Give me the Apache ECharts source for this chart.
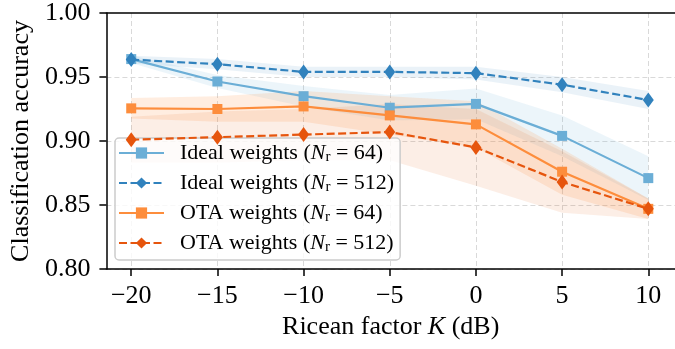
<!DOCTYPE html>
<html>
<head>
<meta charset="utf-8">
<script src="https://cdn.jsdelivr.net/npm/echarts@6/dist/echarts.min.js"></script>
<style>html,body{margin:0;padding:0;background:#fff;}#c{width:675px;height:349px;}</style>
</head>
<body>
<div id="c"></div>
<script>
const kValues = [-20, -15, -10, -5, 0, 5, 10];
const xTicks = [-20, -15, -10, -5, 0, 5, 10];
const yTicks = [0.80, 0.85, 0.90, 0.95, 1.00];

const ideal64 = [0.964, 0.9465, 0.935, 0.926, 0.929, 0.904, 0.871];
const ideal512 = [0.9636, 0.960, 0.954, 0.954, 0.953, 0.944, 0.932];
const ota64 = [0.9255, 0.925, 0.927, 0.920, 0.913, 0.876, 0.847];
const ota512 = [0.901, 0.903, 0.905, 0.907, 0.895, 0.868, 0.847];

const ideal64Err = [0.003, 0.005, 0.008, 0.010, 0.012, 0.016, 0.017];
const ideal512Err = [0.003, 0.004, 0.004, 0.004, 0.005, 0.006, 0.007];
const ota64Err = [0.008, 0.010, 0.012, 0.015, 0.018, 0.018, 0.008];
const ota512Err = [0.018, 0.020, 0.020, 0.022, 0.030, 0.024, 0.008];

const names = [
  'Ideal weights (N_r = 64)',
  'Ideal weights (N_r = 512)',
  'OTA weights (N_r = 64)',
  'OTA weights (N_r = 512)'
];
const richNames = {
  'Ideal weights (N_r = 64)': 'Ideal weights ({it|N}{sub|r} = 64)',
  'Ideal weights (N_r = 512)': 'Ideal weights ({it|N}{sub|r} = 512)',
  'OTA weights (N_r = 64)': 'OTA weights ({it|N}{sub|r} = 64)',
  'OTA weights (N_r = 512)': 'OTA weights ({it|N}{sub|r} = 512)'
};
const colors = ['#6baed6', '#3182bd', '#fd8d3c', '#e6550d'];
const bandColors = ['rgba(107,174,214,0.13)', 'rgba(49,130,189,0.10)', 'rgba(253,141,60,0.16)', 'rgba(230,85,13,0.10)'];
const means = [ideal64, ideal512, ota64, ota512];
const errs = [ideal64Err, ideal512Err, ota64Err, ota512Err];
const FONT = 'Liberation Serif';

function bandSeries(i) {
  const rows = kValues.map((k, j) => [k, means[i][j] - errs[i][j], means[i][j] + errs[i][j]]);
  return {
    type: 'custom',
    name: 'band' + i,
    z: 1,
    silent: true,
    data: rows,
    encode: { x: 0, y: 1 },
    renderItem: function (params, api) {
      if (params.dataIndex !== 0) return null;
      const pts = [];
      rows.forEach(r => pts.push(api.coord([r[0], r[2]])));
      for (let j = rows.length - 1; j >= 0; j--) pts.push(api.coord([rows[j][0], rows[j][1]]));
      return { type: 'polygon', shape: { points: pts }, style: { fill: bandColors[i], stroke: null } };
    }
  };
}

function lineSeries(i) {
  const dashed = (i % 2 === 1);
  return {
    type: 'line',
    name: names[i],
    z: 3 + i,
    data: kValues.map((k, j) => [k, means[i][j]]),
    symbol: dashed ? 'diamond' : 'rect',
    symbolSize: dashed ? [11, 15] : 10,
    showAllSymbol: true,
    lineStyle: { color: colors[i], width: 2.2, type: dashed ? [8, 3.5] : 'solid' },
    itemStyle: { color: colors[i] },
    emphasis: { disabled: true },
    animation: false
  };
}

const gridLine = { color: '#d9d9d9', width: 1, type: [5, 3] };

const chart = echarts.init(document.getElementById('c'));
chart.setOption({
  animation: false,
  grid: { left: 105, right: -3, top: 11, bottom: 80 },
  xAxis: [{
    type: 'value',
    min: -21.44, max: 11.55,
    name: 'Ricean factor {it|K} (dB)',
    nameLocation: 'middle',
    nameGap: 40,
    nameTextStyle: {
      fontFamily: FONT, fontSize: 26, color: '#000',
      rich: { it: { fontFamily: FONT, fontSize: 26, fontStyle: 'italic', color: '#000' } }
    },
    axisLine: { show: true, onZero: false, lineStyle: { color: '#000', width: 1.5 } },
    axisTick: { show: true, length: 7, inside: false, customValues: xTicks, lineStyle: { color: '#000', width: 1.5 } },
    axisLabel: {
      customValues: xTicks, margin: 14, fontFamily: FONT, fontSize: 26, color: '#000',
      formatter: v => String(v).replace('-', '\u2212')
    },
    splitLine: { show: true, customValues: xTicks, lineStyle: gridLine }
  }, {
    type: 'value',
    position: 'top',
    min: -21.44, max: 11.55,
    axisLine: { show: true, onZero: false, lineStyle: { color: '#000', width: 1.5 } },
    axisTick: { show: false },
    axisLabel: { show: false },
    splitLine: { show: false }
  }],
  yAxis: {
    type: 'value',
    min: 0.8, max: 1.0, interval: 0.05,
    name: 'Classification accuracy',
    nameLocation: 'middle',
    nameGap: 70,
    nameTextStyle: { fontFamily: FONT, fontSize: 26, color: '#000' },
    axisLine: { show: true, onZero: false, lineStyle: { color: '#000', width: 1.5 } },
    axisTick: { show: true, length: 7, lineStyle: { color: '#000', width: 1.5 } },
    axisLabel: {
      margin: 16, fontFamily: FONT, fontSize: 26, color: '#000',
      customValues: yTicks,
      formatter: v => Number(v).toFixed(2)
    },
    splitLine: { show: true, showMaxLine: false, lineStyle: gridLine }
  },
  legend: {
    data: names,
    orient: 'vertical',
    left: 115, top: 138,
    padding: [3, 6, 5, 3],
    itemWidth: 45, itemHeight: 14, itemGap: 6,
    backgroundColor: 'rgba(255,255,255,0.8)',
    borderColor: '#cccccc', borderWidth: 1.5, borderRadius: 4,
    formatter: n => richNames[n],
    textStyle: {
      fontFamily: FONT, fontSize: 22, color: '#000', lineHeight: 24, padding: [0, 0, 0, 11],
      rich: {
        it: { fontFamily: FONT, fontSize: 22, fontStyle: 'italic', color: '#000', lineHeight: 24 },
        sub: { fontFamily: FONT, fontSize: 15, color: '#000', lineHeight: 14, verticalAlign: 'bottom' }
      }
    }
  },
  series: [0, 1, 2, 3].map(bandSeries).concat([0, 1, 2, 3].map(lineSeries))
});
</script>
</body>
</html>
